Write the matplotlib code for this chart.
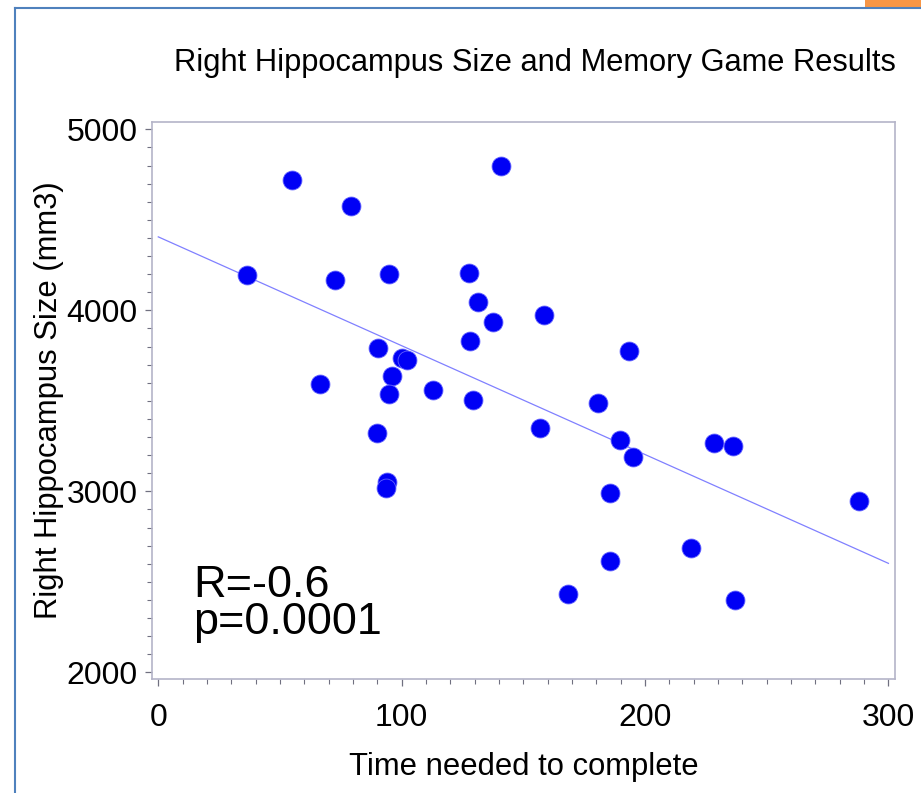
import numpy as np
import matplotlib
matplotlib.use("Agg")
import matplotlib.pyplot as plt
from matplotlib.ticker import MultipleLocator
from matplotlib.patches import Rectangle
from matplotlib.lines import Line2D

plt.rcParams['font.family'] = ['Liberation Sans', 'DejaVu Sans']

# Data
time_needed = [55.1, 140.8, 79.3, 36.6, 72.7, 94.7, 127.8, 131.5, 137.5, 158.6,
               193.6, 180.6, 128.0, 90.2, 100.3, 102.1, 96.2, 66.3, 94.8, 112.8,
               129.5, 90.0, 93.9, 93.5, 156.7, 189.6, 195.2, 228.5, 236.3, 185.8,
               288.0, 218.9, 185.8, 168.5, 236.9]
hippo_size = [4719, 4796, 4579, 4193, 4168, 4199, 4204, 4044, 3934, 3975,
              3773, 3490, 3833, 3793, 3738, 3723, 3639, 3592, 3536, 3558,
              3504, 3324, 3049, 3021, 3348, 3286, 3187, 3269, 3249, 2988,
              2946, 2685, 2617, 2432, 2402]
fit_x = [0, 300]
fit_y = [4406, 2602]
x_ticks = [0, 100, 200, 300]
y_ticks = [2000, 3000, 4000, 5000]
stats_text = 'R=-0.6\np=0.0001'

W, H = 921, 793
fig = plt.figure(figsize=(W / 100, H / 100), dpi=100)

# decorative slide frame
fig.add_artist(Line2D([15 / W, 15 / W], [0, 1 - 8 / H], transform=fig.transFigure,
                      color='#4f81bd', lw=1.5))
fig.add_artist(Line2D([15 / W, 1], [1 - 8 / H, 1 - 8 / H], transform=fig.transFigure,
                      color='#4f81bd', lw=1.5))
fig.add_artist(Rectangle((865 / W, 1 - 7 / H), 56 / W, 7 / H, transform=fig.transFigure,
                         color='#f79646', lw=0))

ax = fig.add_axes([151.7 / W, 1 - 679 / H, (895 - 151.7) / W, (679 - 122.3) / H])

ax.plot(fit_x, fit_y, color='#8080ff', lw=0.9, zorder=2)
ax.scatter(time_needed, hippo_size, s=185, color='#0000f5', edgecolors='#6060ff',
           linewidths=0.6, zorder=3)

ax.set_xlim(-2.7, 302.7)
ax.set_ylim(1963, 5039)
ax.set_xticks(x_ticks)
ax.set_yticks(y_ticks)
ax.xaxis.set_minor_locator(MultipleLocator(10))
ax.yaxis.set_minor_locator(MultipleLocator(100))

spine_col = '#b4b4c8'
for s in ax.spines.values():
    s.set_color(spine_col)
    s.set_linewidth(1.2)
ax.tick_params(axis='both', which='major', length=5, width=0.9, color='#707080',
               labelsize=23, direction='out')
ax.tick_params(axis='both', which='minor', length=3.5, width=0.8, color='#707080',
               direction='out')
ax.tick_params(axis='y', which='major', pad=5)
ax.tick_params(axis='x', which='major', pad=12)

ax.set_xlabel('Time needed to complete', fontsize=22.3, labelpad=14)
ax.set_ylabel('Right Hippocampus Size (mm3)', fontsize=22.3, labelpad=2)

fig.text(535 / W, 1 - 63 / H, 'Right Hippocampus Size and Memory Game Results',
         ha='center', va='center', fontsize=22.2)

fig.text(193 / W, 1 - 643 / H, stats_text, fontsize=32.4, ha='left', va='bottom',
         linespacing=0.88)

fig.savefig('out.png', dpi=100)
